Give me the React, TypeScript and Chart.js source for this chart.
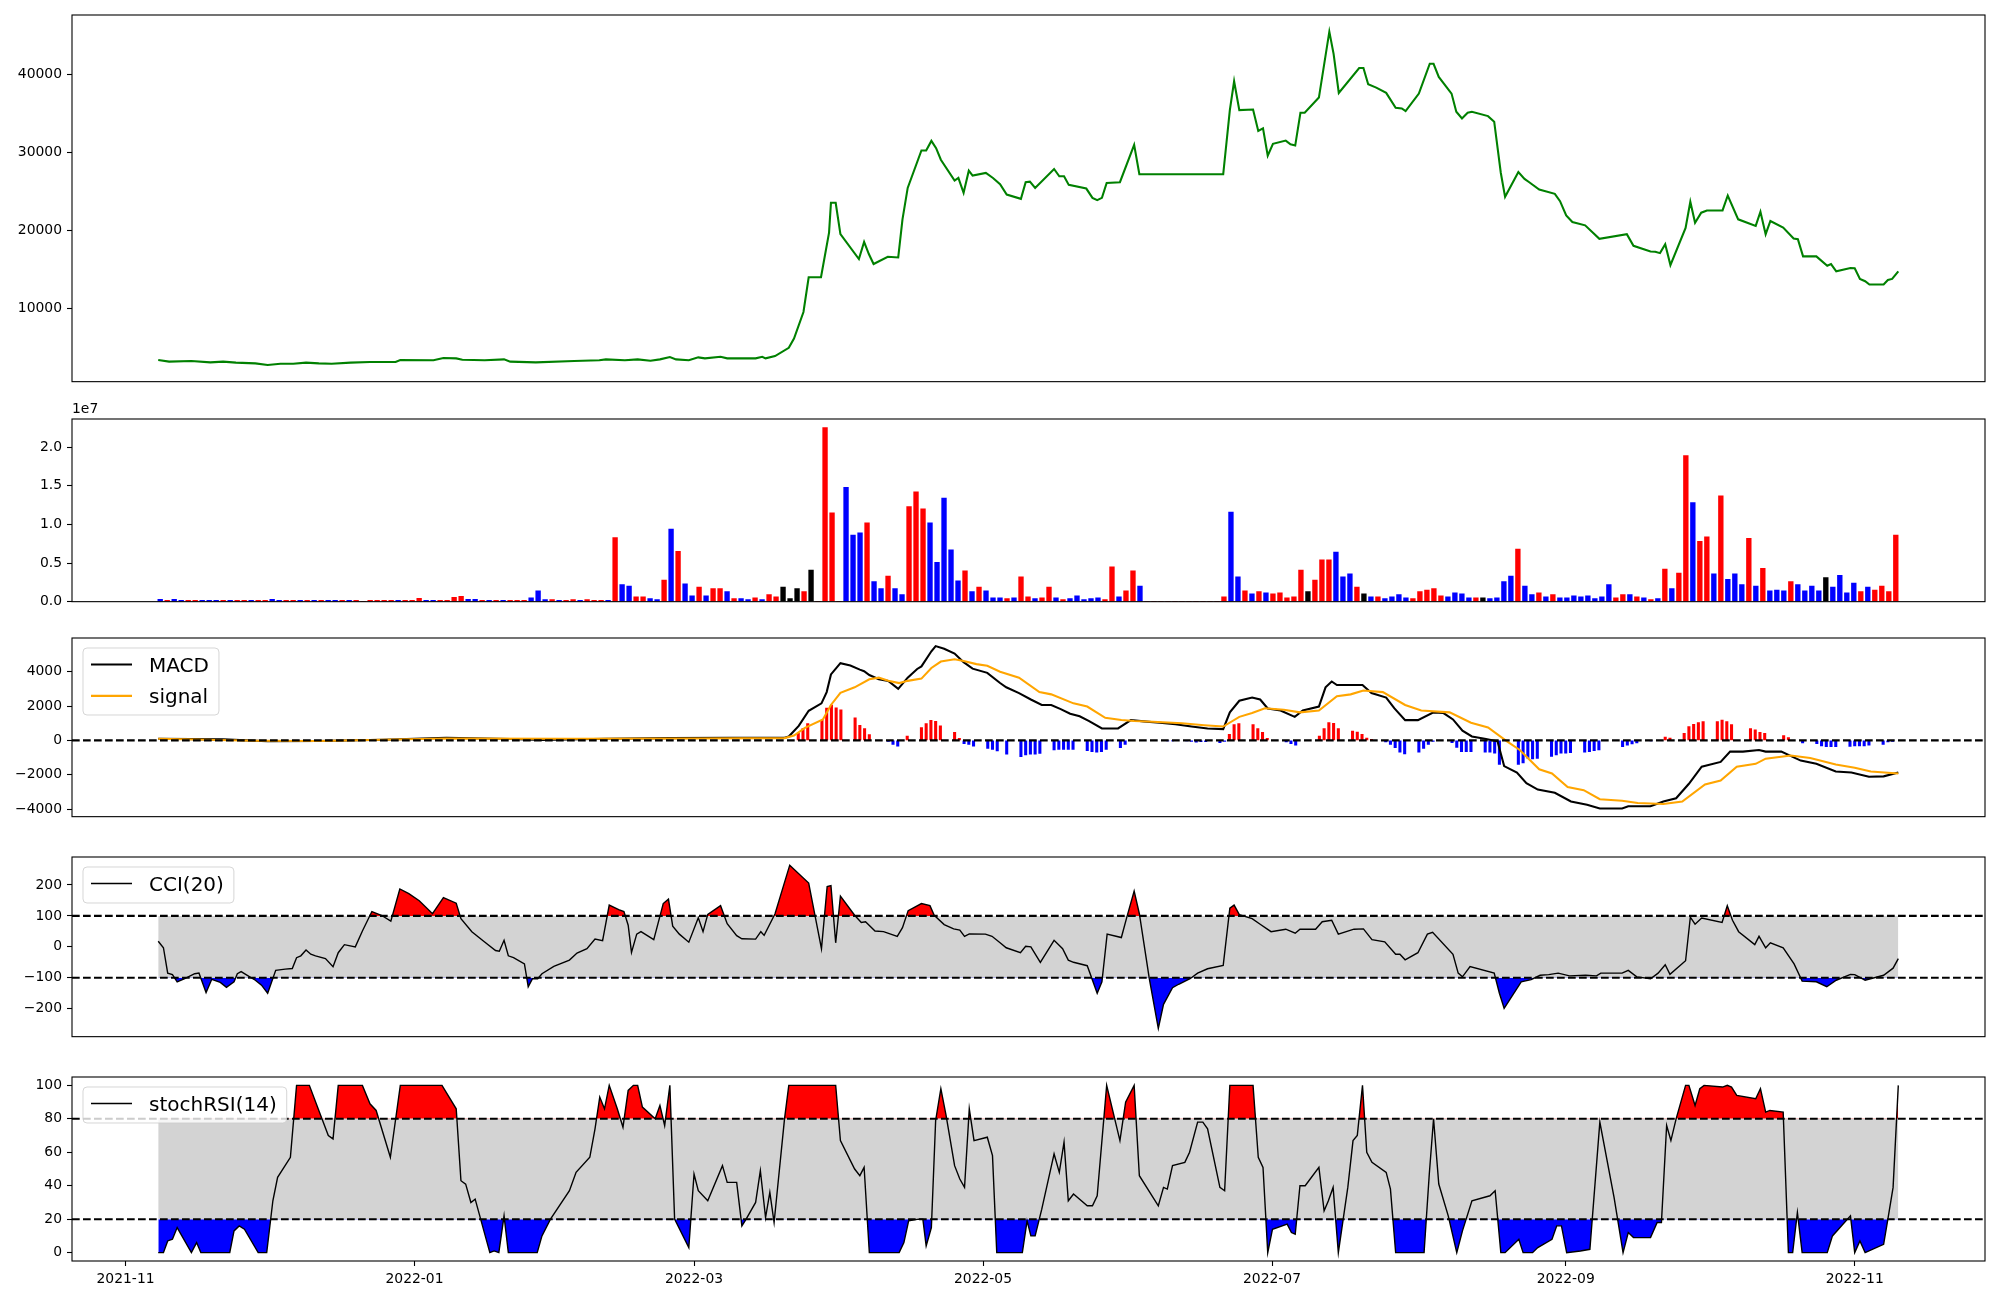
import React, { useEffect, useRef } from "react";
import { Chart, registerables } from "chart.js";

Chart.register(...registerables);

// ---------------- axis / labels ----------------
const X_TICK_LABELS = ["2021-11", "2022-01", "2022-03", "2022-05", "2022-07", "2022-09", "2022-11"];
// x values are days counted from 2021-11-01
const X_MIN = -11.3;
const X_MAX = 392.5;

const PRICE_TICKS = [10000, 20000, 30000, 40000];
const VOLUME_TICKS = [0, 0.5, 1.0, 1.5, 2.0];
const MACD_TICKS = [-4000, -2000, 0, 2000, 4000];
const CCI_TICKS = [-200, -100, 0, 100, 200];
const STOCH_TICKS = [0, 20, 40, 60, 80, 100];

const CCI_LEVELS = [100, -100];
const STOCH_LEVELS = [80, 20];

// ---------------- price ----------------
const PRICE_DAYS = [
  6.9, 9.2, 13.9, 17.9, 20.6, 23.3, 27.4, 30.0, 32.7, 35.4,
  38.1, 40.8, 43.5, 47.5, 51.6, 57.0, 58.0, 65.0, 67.1, 69.8,
  71.1, 75.8, 79.9, 81.2, 86.6, 94.7, 100.0, 101.4, 105.4, 108.1,
  110.8, 112.8, 114.9, 116.2, 118.9, 120.9, 122.3, 125.6, 127.0, 129.7,
  133.0, 134.4, 135.1, 137.1, 140.0, 141.1, 143.1, 144.2, 146.8, 148.5,
  148.9, 149.9, 150.9, 154.8, 155.9, 156.9, 157.9, 160.9, 163.1, 164.0,
  165.1, 168.0, 169.0, 170.1, 171.1, 172.1, 175.0, 175.8, 176.9, 178.0,
  178.8, 181.6, 183.1, 184.6,
  186.0, 189.0, 190.0, 190.9, 192.0, 196.0, 197.1, 198.1, 199.1, 202.8,
  204.1, 205.1, 206.1, 207.1, 209.9, 212.9, 214.0, 231.7, 233.1, 234.0,
  235.1, 238.0, 239.1, 240.1, 241.1, 242.2, 244.9, 245.9, 246.9, 248.0,
  248.9, 251.9, 254.1, 255.0, 256.1, 260.4, 261.3, 262.3, 264.0, 266.1,
  268.1, 269.4, 270.2, 273.0, 275.3, 276.1, 277.2, 279.9, 280.9, 282.1,
  283.3, 284.2, 287.6, 288.9, 290.3, 291.2, 294.0, 295.3, 296.3, 298.4,
  301.7, 302.8, 304.1, 305.4, 308.1, 311.1, 316.9, 318.3, 321.9, 322.9,
  323.9, 325.0, 326.1, 329.3, 330.3, 331.3, 332.6, 333.8, 337.1, 338.2,
  340.4, 344.1, 345.1, 346.2, 347.2, 349.9, 352.1, 353.0, 354.1, 356.9,
  359.2, 360.0, 361.1, 364.1, 365.0, 366.1, 367.2, 368.1, 371.1, 372.0,
  372.9, 374.2,
];
const PRICE_VALUES = [
  3330, 3120, 3200, 3030, 3120, 2990, 2900, 2690, 2860, 2860,
  2990, 2900, 2860, 2990, 3070, 3070, 3330, 3290, 3580, 3540,
  3370, 3290, 3410, 3120, 3030, 3200, 3290, 3410, 3290, 3410,
  3240, 3410, 3710, 3410, 3290, 3670, 3540, 3750, 3540, 3540,
  3540, 3750, 3540, 3840, 4900, 6090, 9490, 13950, 13950, 19690,
  23510, 23510, 19480, 16290, 18500, 16930, 15650, 16590, 16500, 21390,
  25420, 30230, 30230, 31460, 30520, 29040, 26360, 26700, 24790, 27630,
  27000, 27340, 26700, 25900,
  24570, 24020, 26150, 26230, 25420, 27850, 26910, 26910, 25810, 25340,
  24150, 23850, 24150, 26060, 26150, 30950, 27170, 27170, 35410, 39110,
  35410, 35490, 32730, 33070, 29550, 31080, 31500, 31030, 30860, 35070,
  35070, 37020, 45480, 42630, 37620, 40810, 40810, 38720, 38300, 37620,
  35710, 35620, 35280, 37530, 41360, 41360, 39660, 37530, 35200, 34350,
  35070, 35200, 34640, 33920, 27340, 24280, 27460, 26570, 26150, 25210,
  24660, 23720, 21900, 21050, 20620, 18880, 19480, 17990, 17270, 17220,
  17050, 18200, 15520, 20280, 23640, 20960, 22240, 22530, 22530, 24450,
  21390, 20540, 22360, 19480, 21180, 20330, 18920, 18840, 16630, 16630,
  15440, 15650, 14720, 15140, 15100, 13740, 13440, 13020, 13020, 13610,
  13740, 14720,
];

// ---------------- volume (units of 1e7), 249 evenly spaced bars ----------------
const VOLUME_FIRST_DAY = 7.32;
const VOLUME_LAST_DAY = 373.67;
const VOLUME = [
  0.03, 0.017, 0.03, 0.017, 0.017, 0.017, 0.017, 0.017, 0.017, 0.017,
  0.017, 0.017, 0.017, 0.017, 0.017, 0.017, 0.03, 0.017, 0.017, 0.017,
  0.017, 0.017, 0.017, 0.017, 0.017, 0.017, 0.017, 0.017, 0.017, 0,
  0.017, 0.017, 0.017, 0.017, 0.017, 0.017, 0.017, 0.043, 0.017, 0.017,
  0.017, 0.017, 0.055, 0.068, 0.03, 0.03, 0.017, 0.017, 0.017, 0.017,
  0.017, 0.017, 0.017, 0.05, 0.14, 0.026, 0.026, 0.017, 0.017, 0.026,
  0.017, 0.026, 0.017, 0.017, 0.017, 0.83, 0.22, 0.20, 0.064, 0.064,
  0.04, 0.026, 0.28, 0.94, 0.65, 0.23, 0.077, 0.19, 0.077, 0.17,
  0.17, 0.13, 0.04, 0.04, 0.026, 0.05, 0.026, 0.09, 0.064, 0.19,
  0.04, 0.17, 0.13, 0.41, 0, 2.25, 1.15, 0, 1.48, 0.86,
  0.89, 1.02, 0.26, 0.17, 0.33, 0.17, 0.09, 1.23, 1.42, 1.20,
  1.02, 0.51, 1.34, 0.67, 0.27, 0.40, 0.13, 0.19, 0.14, 0.05,
  0.05, 0.04, 0.05, 0.32, 0.064, 0.04, 0.05, 0.19, 0.05, 0.026,
  0.04, 0.077, 0.026, 0.04, 0.05, 0.026, 0.45, 0.064, 0.14, 0.40,
  0.20, 0, 0, 0, 0, 0, 0, 0, 0, 0,
  0, 0, 0.064, 1.16, 0.32, 0.14, 0.10, 0.13, 0.115, 0.10,
  0.115, 0.05, 0.064, 0.41, 0.13, 0.28, 0.54, 0.54, 0.64, 0.32,
  0.36, 0.19, 0.10, 0.064, 0.064, 0.04, 0.064, 0.09, 0.05, 0.04,
  0.13, 0.15, 0.17, 0.077, 0.064, 0.115, 0.10, 0.05, 0.05, 0.05,
  0.04, 0.05, 0.26, 0.33, 0.68, 0.20, 0.09, 0.115, 0.064, 0.09,
  0.05, 0.05, 0.077, 0.064, 0.077, 0.04, 0.064, 0.22, 0.05, 0.09,
  0.09, 0.064, 0.05, 0.026, 0.04, 0.42, 0.17, 0.37, 1.89, 1.28,
  0.78, 0.84, 0.36, 1.37, 0.29, 0.36, 0.22, 0.82, 0.20, 0.43,
  0.14, 0.15, 0.14, 0.26, 0.22, 0.14, 0.20, 0.14, 0.31, 0.19,
  0.34, 0.115, 0.24, 0.13, 0.19, 0.15, 0.20, 0.13, 0.86,
];
// r = up (red), b = down (blue), k = unchanged (black)
const VOLUME_COLOR_CODES = [
  "brbbrrbbbr", "brrbrrbbrr", "brbrbbrbrr", "rrrrbrrrbb", "rrrrbbrbrb",
  "rrrbbbrbrr", "brrrbrbbrr", "bbrbrbbrbr", "rbrbbrbrrk", "kkrkrrrrbb",
  "brbbrbbrrr", "bbbbbrbrbb", "brbrrbrrbr", "bbbbbrrbrr", "brrrrrrrrr",
  "rrrbbrbrbr", "rrrrkrrrbb", "brkbrbbbbr", "rrrrbbbbrk", "bbbbrbbrbr",
  "bbbbbbbbrr", "brbrbrbrrb", "rrbrbbbrbr", "bbbrbbbbkb", "bbbrbrrrr",
].join("");

// ---------------- MACD ----------------
const MACD_DAYS = [
  6.9, 20.6, 30.0, 40.8, 54.3, 67.7, 81.2, 87.9, 101.4, 114.9,
  128.3, 139.1, 140.0, 142.1, 144.2, 146.9, 148.0, 148.9, 150.9, 153.0,
  155.0, 155.9, 157.0, 159.0, 161.0, 163.1, 165.1, 167.1, 168.0, 170.1,
  171.0, 172.8, 175.0, 176.9, 178.8, 181.9, 184.6,
  185.9, 188.6, 191.1, 193.4, 195.4, 197.4, 199.4, 201.4, 203.4, 206.1,
  209.5, 212.2, 214.9, 218.3, 221.6, 225.0, 228.4, 231.7, 233.1, 235.1,
  237.8, 239.5, 241.1, 243.8, 246.8, 248.5, 251.9, 253.3, 254.6, 255.7,
  261.1, 263.0, 266.1, 267.8, 270.1, 272.8, 276.1, 278.2, 280.2, 282.2,
  284.2, 286.9, 289.6, 291.0, 293.7, 295.7, 298.1, 301.7, 305.1, 308.5,
  311.2, 315.9, 317.2, 321.9, 324.6, 327.3, 330.0, 332.7, 336.7, 338.7,
  341.4, 344.8, 346.2, 349.5, 353.6, 356.9, 361.0, 364.3, 368.0, 371.1,
  374.2,
];
const MACD_VALUES = [
  94, 56, -56, -37, 37, 150, 75, 19, 94, 131,
  150, 150, 225, 843, 1724, 2155, 2811, 3842, 4498, 4366,
  4123, 4029, 3804, 3561, 3467, 2998, 3654, 4160, 4310, 5191,
  5491, 5341, 5060, 4554, 4179, 3935, 3340,
  3092, 2755, 2380, 2061, 2061, 1818, 1555, 1405, 1124, 693,
  693, 1181, 1106, 1031, 937, 806, 693, 656, 1630, 2305,
  2493, 2380, 1855, 1743, 1368, 1743, 1968, 3092, 3429, 3223,
  3223, 2755, 2493, 1874, 1181, 1181, 1630, 1593, 1218, 562,
  225, 94, -56, -1499, -1874, -2492, -2867, -3055, -3561, -3748,
  -3973, -3973, -3842, -3842, -3561, -3373, -2530, -1537, -1256, -656,
  -656, -562, -656, -656, -1181, -1368, -1818, -1874, -2118, -2099,
  -1874,
];
const SIGNAL_DAYS = [
  6.9, 27.4, 40.8, 67.7, 94.7, 121.6, 139.1, 141.1, 143.4, 147.2,
  148.9, 150.9, 153.9, 157.0, 159.0, 161.0, 163.3, 165.1, 168.0, 170.1,
  172.1, 175.0, 176.9, 179.6, 181.9, 184.6,
  188.6, 192.9, 195.4, 200.1, 203.0, 206.8, 210.2, 212.9, 216.9, 223.0,
  227.7, 231.7, 235.1, 237.8, 240.5, 244.5, 247.9, 251.9, 255.7, 258.6,
  261.3, 265.4, 270.1, 273.5, 279.5, 284.0, 287.6, 291.6, 294.3, 298.4,
  301.1, 304.4, 307.8, 311.2, 315.9, 319.2, 324.6, 328.6, 333.4, 336.7,
  340.1, 344.1, 346.2, 351.5, 355.6, 361.0, 365.0, 368.4, 374.2,
];
const SIGNAL_VALUES = [
  94, -19, -37, 112, 94, 112, 130, 281, 731, 1218,
  2061, 2774, 3092, 3561, 3654, 3467, 3336, 3467, 3598, 4217,
  4591, 4723, 4629, 4442, 4348, 4000,
  3654, 2811, 2680, 2155, 1968, 1312, 1181, 1124, 1087, 993,
  881, 806, 1368, 1593, 1874, 1780, 1630, 1743, 2567, 2680,
  2905, 2811, 2061, 1743, 1630, 1031, 750, -56, -562, -1687,
  -1930, -2717, -2905, -3430, -3523, -3655, -3711, -3561, -2567, -2342,
  -1537, -1368, -1068, -881, -1031, -1405, -1593, -1818, -1930,
];
const HIST_DAYS = [
  142, 143, 144, 147, 148, 149, 150, 151, 154, 155,
  156, 157, 161, 162, 163, 165, 168, 169, 170, 171,
  172, 175, 176, 177, 178, 179, 182, 183, 184, 186,
  189, 190, 191, 192, 193, 196, 197, 198, 199, 200,
  203, 204, 205, 206, 207, 210, 211, 220, 221, 224,
  225, 226, 227, 228, 231, 232, 233, 234, 235, 238,
  239, 240, 241, 245, 246, 247, 252, 253, 254, 255,
  256, 259, 260, 261, 262, 263, 266, 267, 268, 269,
  270, 273, 274, 275, 276, 280, 281, 282, 283, 284,
  287, 288, 289, 290, 294, 295, 296, 297, 298, 301,
  302, 303, 304, 305, 308, 309, 310, 311, 316, 317,
  318, 319, 322, 325, 326, 329, 330, 331, 332, 333,
  336, 337, 338, 339, 343, 344, 345, 346, 350, 351,
  354, 357, 358, 359, 360, 361, 364, 365, 366, 367,
  368, 371, 372, 373,
];
const HIST_VALUES = [
  412, 693, 975, 1162, 1874, 2061, 1900, 1780, 1312, 881,
  693, 337, -56, -244, -337, 244, 750, 975, 1162, 1106,
  843, 469, 112, -187, -244, -337, -468, -525, -618, -806,
  -956, -843, -806, -806, -768, -562, -525, -525, -525, -525,
  -600, -656, -693, -656, -525, -431, -244, -30, -40, -30,
  -60, -100, -80, -80, -131, -56, 356, 918, 975, 918,
  693, 469, 112, -94, -187, -281, 244, 693, 1031, 993,
  693, 544, 487, 356, 131, 56, -94, -244, -431, -693,
  -787, -693, -468, -244, -56, -131, -412, -656, -656, -656,
  -693, -693, -750, -1405, -1405, -1312, -1031, -1087, -1049, -937,
  -843, -750, -750, -712, -693, -656, -600, -562, -375, -281,
  -206, -150, -19, 187, 131, 412, 806, 937, 1031, 1087,
  1087, 1181, 1087, 918, 693, 618, 469, 412, 281, 169,
  -150, -187, -319, -375, -375, -375, -356, -319, -319, -319,
  -281, -244, -94, -56,
];

// ---------------- CCI(20) ----------------
const CCI_DAYS = [
  6.9, 8.0, 8.9, 9.9, 10.9, 12.5, 14.6, 15.5, 17.0, 18.2,
  20.0, 21.3, 22.9, 23.6, 24.4, 25.7, 27.4, 28.7, 30.0, 31.7,
  33.7, 35.2, 36.1, 37.0, 38.1, 39.1, 40.1, 42.2, 43.8, 44.9,
  46.2, 48.5, 50.0, 52.0, 54.0, 56.0, 57.9, 59.8, 62.0, 64.8,
  67.1, 69.8, 70.8, 73.1, 75.6, 78.1, 78.9, 79.9, 80.8, 81.9,
  84.2, 85.0, 85.9, 87.0, 87.9, 90.4, 93.7, 95.3, 97.4, 99.1,
  100.7, 102.1, 104.1, 105.2, 106.1, 106.8, 107.9, 108.8, 111.5, 113.5,
  114.6, 115.5, 116.9, 118.9, 120.9, 121.9, 122.9, 125.6, 127.0, 129.0,
  130.1, 133.0, 134.1, 134.8, 137.1, 140.2, 144.2, 145.6, 146.9, 148.1,
  148.9, 149.9, 150.9, 153.9, 155.3, 156.2, 158.2, 160.0, 162.9, 164.0,
  165.2, 168.0, 169.8, 170.7, 172.8, 174.8, 176.1, 177.1, 178.1, 181.5,
  182.9, 184.6,
  185.9, 188.9, 190.0, 191.1, 193.1, 196.0, 197.8, 199.0, 200.1, 203.0,
  205.1, 206.1, 207.2, 210.2, 211.3, 212.9, 214.0, 216.1, 218.0, 219.1,
  221.0, 222.3, 224.7, 226.3, 228.4, 231.7, 233.1, 234.0, 235.1, 237.8,
  239.5, 241.8, 244.9, 246.9, 247.9, 251.2, 252.6, 254.6, 256.0, 259.3,
  261.3, 263.1, 265.8, 268.1, 269.0, 270.1, 272.8, 274.8, 275.9, 280.2,
  281.3, 282.2, 283.8, 288.9, 290.0, 291.0, 294.6, 296.7, 298.6, 300.4,
  302.4, 304.8, 308.2, 310.5, 311.4, 315.9, 317.2, 319.0, 321.9, 323.5,
  325.0, 326.0, 329.3, 330.3, 331.3, 332.7, 337.0, 338.1, 339.2, 340.5,
  343.9, 344.8, 346.2, 347.2, 349.9, 352.2, 353.9, 356.9, 359.1, 361.1,
  364.1, 365.0, 367.2, 371.1, 373.1, 374.2,
];
const CCI_VALUES = [
  18, -3, -85, -90, -113, -103, -87, -85, -148, -105,
  -115, -131, -113, -87, -80, -92, -108, -124, -150, -76,
  -72, -70, -35, -29, -10, -24, -29, -38, -64, -19,
  7, 0, 51, 114, 102, 83, 187, 172, 149, 107,
  159, 141, 91, 49, 18, -12, -14, 21, -29, -35,
  -55, -129, -103, -103, -87, -63, -43, -20, -6, 25,
  20, 135, 120, 114, 70, -18, 41, 49, 23, 140,
  154, 67, 41, 15, 94, 49, 105, 133, 75, 36,
  26, 25, 49, 37, 107, 264, 206, 96, -6, 195,
  198, 13, 164, 102, 79, 81, 51, 49, 34, 62,
  117, 140, 133, 102, 72, 58, 54, 34, 42, 41,
  34, 13,
  -3, -19, 2, 0, -50, 21, -6, -43, -50, -61,
  -150, -113, 41, 30, 93, 180, 107, -103, -264, -186,
  -132, -121, -103, -85, -71, -60, 125, 135, 104, 91,
  73, 49, 57, 44, 57, 57, 81, 86, 41, 57,
  58, 23, 16, -24, -24, -42, -19, 41, 47, -24,
  -85, -97, -64, -85, -150, -199, -113, -106, -92, -90,
  -85, -94, -92, -94, -85, -85, -76, -97, -103, -85,
  -58, -89, -45, 96, 73, 93, 79, 133, 86, 49,
  7, 34, -3, 13, -3, -55, -111, -113, -129, -108,
  -89, -90, -108, -92, -69, -38,
];

// ---------------- stochRSI(14) ----------------
const STOCH_DAYS = [
  6.9, 8.0, 8.9, 9.9, 10.9, 13.9, 15.0, 15.9, 22.0, 22.9,
  24.0, 25.1, 28.0, 29.8, 31.1, 32.1, 34.8, 36.1, 38.8, 41.2,
  42.8, 43.8, 44.9, 50.0, 51.6, 52.9, 55.9, 58.0, 66.8, 69.8,
  70.8, 71.8, 72.9, 73.8, 76.9, 77.8, 78.8, 79.9, 80.8, 86.9,
  87.9, 89.7, 93.7, 95.1, 98.0, 99.1, 100.1, 101.1, 102.1, 103.8,
  105.0, 106.1, 107.2, 108.1, 109.1, 111.8, 112.8, 113.8, 114.9, 115.9,
  118.9, 120.0, 120.9, 122.9, 126.0, 127.0, 129.0, 130.1, 131.0, 133.0,
  134.0, 135.1, 136.0, 136.9, 139.1, 140.0, 149.9, 150.9, 153.9, 155.0,
  155.9, 157.0, 163.3, 164.3, 165.3, 167.4, 168.3, 169.0, 170.1, 171.0,
  172.1, 173.2, 175.0, 176.1, 177.1, 178.1, 179.1, 181.9, 183.0, 183.9,
  184.6,
  189.3, 190.3, 191.1, 192.0, 193.4, 196.0, 197.1, 198.1, 199.0, 200.1,
  203.0, 204.1, 205.1, 207.1, 209.9, 211.1, 212.9, 214.0, 218.0, 219.1,
  219.9, 221.0, 223.6, 224.6, 226.3, 227.4, 228.4, 231.0, 232.0, 233.1,
  238.0, 239.1, 240.1, 241.1, 242.1, 245.2, 246.1, 246.9, 247.9, 249.0,
  251.9, 253.0, 253.9, 254.9, 256.0, 258.0, 259.1, 260.0, 261.1, 262.0,
  263.1, 266.1, 267.0, 268.1, 274.1, 275.2, 276.1, 277.2, 279.2, 281.0,
  282.2, 284.2, 288.0, 289.1, 290.3, 291.2, 294.1, 295.0, 297.0, 298.1,
  301.1, 302.1, 303.1, 304.2, 307.1, 309.1, 311.2, 314.2, 316.1, 317.2,
  318.3, 321.9, 323.3, 324.2, 325.3, 326.2, 327.3, 329.3, 330.0, 331.3,
  332.3, 333.2, 337.1, 338.1, 339.0, 340.1, 344.1, 345.1, 346.2, 347.1,
  349.9, 351.0, 351.9, 352.9, 353.9, 359.2, 360.3, 364.1, 365.0, 366.1,
  367.2, 371.1, 372.0, 373.1, 374.2,
];
const STOCH_VALUES = [
  0, 0, 7, 8, 15, 0, 6, 0, 0, 13,
  16, 14, 0, 0, 31, 45, 57, 100, 100, 82,
  70, 68, 100, 100, 89, 85, 57, 100, 100, 86,
  43, 41, 30, 32, 0, 1, 0, 22, 0, 0,
  10, 20, 37, 48, 57, 74, 93, 86, 100, 86,
  75, 97, 100, 100, 87, 80, 88, 76, 100, 20,
  3, 47, 37, 31, 52, 42, 42, 16, 20, 30,
  49, 21, 36, 18, 80, 100, 100, 67, 50, 46,
  51, 0, 0, 6, 19, 20, 20, 4, 15, 79,
  98, 82, 52, 44, 39, 86, 67, 69, 58, 0,
  0,
  0, 19, 10, 10, 26, 59, 48, 66, 31, 35,
  28, 28, 34, 100, 67, 90, 100, 46, 28, 39,
  38, 52, 54, 60, 78, 78, 74, 39, 37, 100,
  100, 57, 51, 0, 14, 17, 12, 11, 40, 40,
  51, 25, 31, 39, 0, 39, 67, 70, 100, 60,
  54, 48, 38, 0, 0, 47, 80, 41, 22, 0,
  13, 31, 34, 37, 0, 0, 8, 0, 0, 3,
  8, 16, 16, 0, 1, 2, 78, 33, 0, 12,
  9, 9, 18, 18, 76, 67, 80, 100, 100, 88,
  98, 100, 99, 100, 99, 94, 92, 98, 84, 85,
  84, 0, 0, 24, 0, 0, 10, 22, 0, 7,
  0, 5, 20, 39, 100,
];

// ---------------- styling ----------------
const FONT_FAMILY = "'DejaVu Sans', 'Liberation Sans', sans-serif";
const TICK_FONT_PX = 13.9;
const LEGEND_FONT_PX = 20;
const RED = "#ff0000";
const BLUE = "#0000ff";
const BLACK = "#000000";
const GREEN = "#008000";
const ORANGE = "#ffa500";
const LIGHT_GRAY = "#d3d3d3";
const TRANSPARENT = "rgba(0,0,0,0)";
const COLOR_BY_CODE: any = { r: RED, b: BLUE, k: BLACK };
const THICK_LINE = 2.08;
const THIN_LINE = 1.4;

const AREA_LEFT = 72;
const AREA_RIGHT = 1985;
const PANELS = [
  { top: 0, height: 395, areaTop: 15, areaBottom: 383 },
  { top: 395, height: 220, areaTop: 419, areaBottom: 603 },
  { top: 620, height: 210, areaTop: 638, areaBottom: 822 },
  { top: 840, height: 210, areaTop: 857, areaBottom: 1041 },
  { top: 1060, height: 240, areaTop: 1077, areaBottom: 1261 },
];

// ---------------- helpers ----------------
const ORIGIN_MS = Date.UTC(2021, 10, 1);
function monthStartDay(label: string) {
  const [y, m] = label.split("-").map(Number);
  return (Date.UTC(y, m - 1, 1) - ORIGIN_MS) / 86400000;
}
function pts(xs: number[], ys: number[]) {
  return xs.map((x, i) => ({ x, y: ys[i] }));
}
function paddedRange(values: number[], frac = 0.05) {
  const lo = Math.min(...values);
  const hi = Math.max(...values);
  const r = hi - lo;
  return [lo - r * frac, hi + r * frac];
}
function volumeDay(i: number) {
  return VOLUME_FIRST_DAY + (i * (VOLUME_LAST_DAY - VOLUME_FIRST_DAY)) / (VOLUME.length - 1);
}
const minusFmt = (v: number) => (v < 0 ? "\u2212" + Math.abs(v) : String(v));

function tickFont() {
  return { family: FONT_FAMILY, size: TICK_FONT_PX };
}

function makeOptions(panel: any, y: any, showX: boolean) {
  const padTop = panel.areaTop - panel.top;
  const bottomSpace = panel.top + panel.height - panel.areaBottom;
  return {
    responsive: false,
    maintainAspectRatio: false,
    animation: false,
    devicePixelRatio: 1,
    events: [],
    layout: { padding: { left: 0, right: 2000 - AREA_RIGHT, top: padTop, bottom: showX ? 0 : bottomSpace } },
    plugins: { legend: { display: false }, tooltip: { enabled: false }, title: { display: false } },
    scales: {
      x: {
        type: "linear",
        min: X_MIN,
        max: X_MAX,
        bounds: "data",
        offset: false,
        display: showX,
        grid: { display: true, offset: false, drawOnChartArea: false, drawTicks: true, tickLength: 5, tickColor: BLACK, tickWidth: 1.1 },
        border: { display: false },
        ticks: {
          color: BLACK,
          font: tickFont(),
          padding: 5,
          maxRotation: 0,
          minRotation: 0,
          autoSkip: false,
          callback: (_v: any, i: number) => X_TICK_LABELS[i],
        },
        afterBuildTicks: (s: any) => {
          s.ticks = X_TICK_LABELS.map((l) => ({ value: monthStartDay(l) }));
        },
        afterFit: (s: any) => {
          if (showX) s.height = bottomSpace;
        },
      },
      y: {
        type: "linear",
        min: y.min,
        max: y.max,
        bounds: "data",
        grid: { display: true, drawOnChartArea: false, drawTicks: true, tickLength: 5, tickColor: BLACK, tickWidth: 1.1 },
        border: { display: false },
        ticks: { color: BLACK, font: tickFont(), padding: 5, autoSkip: false, callback: (v: number) => y.format(v) },
        afterBuildTicks: (s: any) => {
          s.ticks = y.ticks.map((v: number) => ({ value: v }));
        },
        afterFit: (s: any) => {
          s.width = AREA_LEFT;
        },
      },
    },
  };
}

function decor(o: { levels?: number[]; legend?: { label: string; color: string; width: number }[]; offsetText?: string }) {
  return {
    id: "decor",
    afterDatasetsDraw(chart: any) {
      const { ctx, chartArea: a } = chart;
      const ys = chart.scales.y;
      ctx.save();
      if (o.levels) {
        ctx.strokeStyle = BLACK;
        ctx.lineWidth = THICK_LINE;
        ctx.setLineDash([7.7, 3.3]);
        for (const v of o.levels) {
          const yy = ys.getPixelForValue(v);
          ctx.beginPath();
          ctx.moveTo(a.left, yy);
          ctx.lineTo(a.right, yy);
          ctx.stroke();
        }
        ctx.setLineDash([]);
      }
      ctx.strokeStyle = BLACK;
      ctx.lineWidth = 1.1;
      ctx.strokeRect(a.left, a.top, a.right - a.left, a.bottom - a.top);
      ctx.restore();
    },
    afterDraw(chart: any) {
      const { ctx, chartArea: a } = chart;
      ctx.save();
      if (o.offsetText) {
        ctx.font = `${TICK_FONT_PX}px ${FONT_FAMILY}`;
        ctx.fillStyle = BLACK;
        ctx.textAlign = "left";
        ctx.textBaseline = "alphabetic";
        ctx.fillText(o.offsetText, a.left, a.top - 6);
      }
      if (o.legend) {
        ctx.font = `${LEGEND_FONT_PX}px ${FONT_FAMILY}`;
        const textW = Math.max(...o.legend.map((e) => ctx.measureText(e.label).width));
        const x0 = a.left + 11;
        const y0 = a.top + 10;
        const n = o.legend.length;
        const w = 66 + textW + 10;
        const h = 36 + (n - 1) * 31;
        const r = 4;
        ctx.beginPath();
        ctx.moveTo(x0 + r, y0);
        ctx.lineTo(x0 + w - r, y0);
        ctx.arcTo(x0 + w, y0, x0 + w, y0 + r, r);
        ctx.lineTo(x0 + w, y0 + h - r);
        ctx.arcTo(x0 + w, y0 + h, x0 + w - r, y0 + h, r);
        ctx.lineTo(x0 + r, y0 + h);
        ctx.arcTo(x0, y0 + h, x0, y0 + h - r, r);
        ctx.lineTo(x0, y0 + r);
        ctx.arcTo(x0, y0, x0 + r, y0, r);
        ctx.closePath();
        ctx.fillStyle = "rgba(255,255,255,0.8)";
        ctx.fill();
        ctx.strokeStyle = "rgba(204,204,204,0.8)";
        ctx.lineWidth = 1;
        ctx.stroke();
        o.legend.forEach((e, i) => {
          const cy = y0 + 16.5 + i * 31.4;
          ctx.strokeStyle = e.color;
          ctx.lineWidth = e.width;
          ctx.beginPath();
          ctx.moveTo(x0 + 8, cy);
          ctx.lineTo(x0 + 49, cy);
          ctx.stroke();
          ctx.fillStyle = BLACK;
          ctx.textAlign = "left";
          ctx.textBaseline = "alphabetic";
          ctx.fillText(e.label, x0 + 66, cy + 7.5);
        });
      }
      ctx.restore();
    },
  };
}

function lineDs(data: any[], color: string, width: number) {
  return { type: "line", data, borderColor: color, borderWidth: width, pointRadius: 0, tension: 0, fill: false };
}
function fillDs(data: any[], level: number, above: string, below: string) {
  return {
    type: "line",
    data,
    borderColor: TRANSPARENT,
    borderWidth: 0,
    pointRadius: 0,
    tension: 0,
    fill: { target: { value: level }, above, below },
  };
}

// ---------------- chart configs ----------------
function priceConfig() {
  const [mn, mx] = paddedRange(PRICE_VALUES);
  return {
    type: "line",
    data: { datasets: [lineDs(pts(PRICE_DAYS, PRICE_VALUES), GREEN, THICK_LINE)] },
    options: makeOptions(PANELS[0], { min: mn, max: mx, ticks: PRICE_TICKS, format: (v: number) => String(v) }, false),
    plugins: [decor({})],
  };
}

function volumeConfig() {
  const mx = Math.max(...VOLUME) * 1.05;
  return {
    type: "bar",
    data: {
      datasets: [
        {
          data: VOLUME.map((v, i) => ({ x: volumeDay(i), y: v })),
          backgroundColor: VOLUME.map((_v, i) => COLOR_BY_CODE[VOLUME_COLOR_CODES[i]]),
          borderWidth: 0,
          barThickness: 4.7,
          grouped: false,
        },
      ],
    },
    options: makeOptions(PANELS[1], { min: 0, max: mx, ticks: VOLUME_TICKS, format: (v: number) => v.toFixed(1) }, false),
    plugins: [decor({ offsetText: "1e7" })],
  };
}

function macdConfig() {
  const [mn, mx] = paddedRange([...MACD_VALUES, ...SIGNAL_VALUES, ...HIST_VALUES]);
  return {
    type: "line",
    data: {
      datasets: [
        lineDs(pts(SIGNAL_DAYS, SIGNAL_VALUES), ORANGE, THICK_LINE),
        lineDs(pts(MACD_DAYS, MACD_VALUES), BLACK, THICK_LINE),
        {
          type: "bar",
          data: pts(HIST_DAYS, HIST_VALUES),
          backgroundColor: HIST_VALUES.map((v) => (v >= 0 ? RED : BLUE)),
          borderWidth: 0,
          barThickness: 2.4,
          grouped: false,
        },
      ],
    },
    options: makeOptions(PANELS[2], { min: mn, max: mx, ticks: MACD_TICKS, format: minusFmt }, false),
    plugins: [
      decor({
        levels: [0],
        legend: [
          { label: "MACD", color: BLACK, width: THICK_LINE },
          { label: "signal", color: ORANGE, width: THICK_LINE },
        ],
      }),
    ],
  };
}

function bandConfig(panel: any, days: number[], values: number[], levels: number[], ticks: number[], label: string, range: number[], showX: boolean) {
  const data = pts(days, values);
  const [hiLevel, loLevel] = levels;
  const band = [
    { x: days[0], y: hiLevel },
    { x: days[days.length - 1], y: hiLevel },
  ];
  return {
    type: "line",
    data: {
      datasets: [
        lineDs(data, BLACK, THIN_LINE),
        fillDs(data, hiLevel, RED, TRANSPARENT),
        fillDs(data, loLevel, TRANSPARENT, BLUE),
        fillDs(band, loLevel, LIGHT_GRAY, LIGHT_GRAY),
      ],
    },
    options: makeOptions(panel, { min: range[0], max: range[1], ticks, format: minusFmt }, showX),
    plugins: [decor({ levels, legend: [{ label, color: BLACK, width: THIN_LINE }] })],
  };
}

function cciConfig() {
  return bandConfig(PANELS[3], CCI_DAYS, CCI_VALUES, CCI_LEVELS, CCI_TICKS, "CCI(20)", paddedRange(CCI_VALUES), false);
}
function stochConfig() {
  return bandConfig(PANELS[4], STOCH_DAYS, STOCH_VALUES, STOCH_LEVELS, STOCH_TICKS, "stochRSI(14)", paddedRange(STOCH_VALUES), true);
}

export default function App() {
  const r0 = useRef<HTMLCanvasElement>(null);
  const r1 = useRef<HTMLCanvasElement>(null);
  const r2 = useRef<HTMLCanvasElement>(null);
  const r3 = useRef<HTMLCanvasElement>(null);
  const r4 = useRef<HTMLCanvasElement>(null);
  const refs = [r0, r1, r2, r3, r4];

  useEffect(() => {
    const configs = [priceConfig(), volumeConfig(), macdConfig(), cciConfig(), stochConfig()];
    const charts = configs.map((cfg: any, i) => new Chart(refs[i].current as HTMLCanvasElement, cfg));
    return () => charts.forEach((c) => c.destroy());
  }, []);

  return (
    <div style={{ position: "absolute", left: 0, top: 0, width: 2000, height: 1300, background: "#ffffff", overflow: "hidden" }}>
      {PANELS.map((p, i) => (
        <canvas
          key={i}
          ref={refs[i]}
          width={2000}
          height={p.height}
          style={{ position: "absolute", left: 0, top: p.top, width: 2000, height: p.height, display: "block" }}
        />
      ))}
    </div>
  );
}
